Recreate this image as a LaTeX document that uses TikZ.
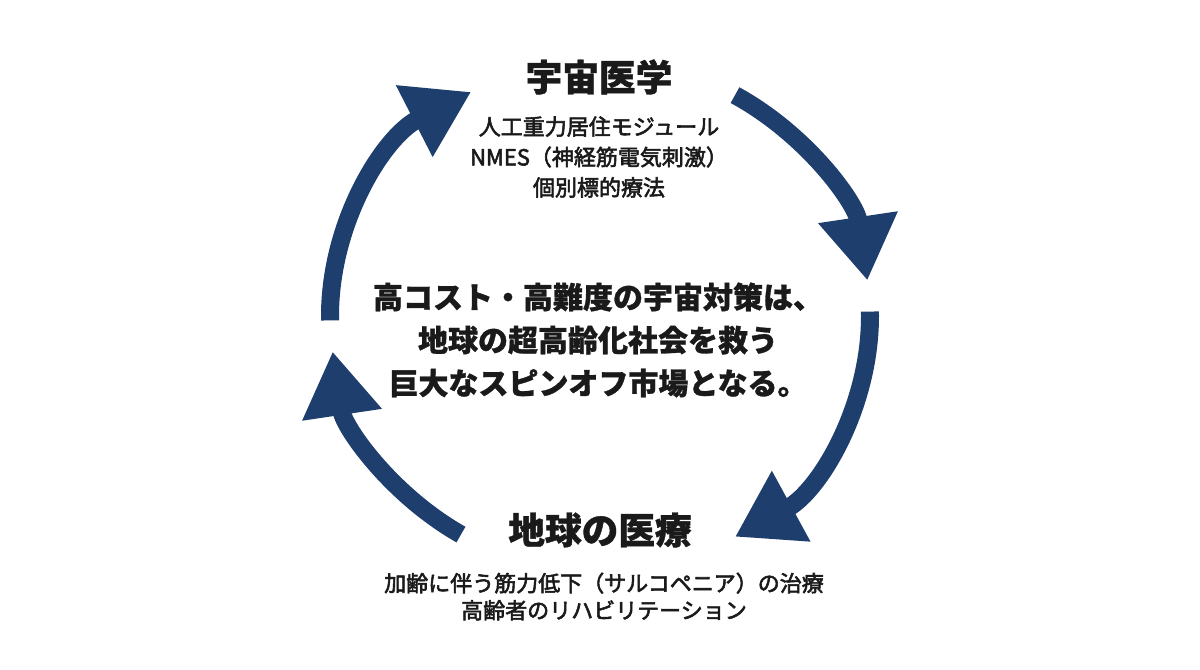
\documentclass[tikz,border=0pt]{standalone}
\usepackage{fontspec}
\setmainfont{Noto Sans CJK JP}
\newfontfamily\jpmed{Noto Sans CJK JP}[FakeBold=2.5]
\newfontfamily\jpheavy{Noto Sans CJK JP}[BoldFeatures={FakeBold=1}]
\usetikzlibrary{arrows.meta,calc}
\definecolor{navy}{RGB}{30,62,110}
\definecolor{ink}{RGB}{26,26,26}
\tikzset{
  cyclearrow/.style={draw=navy, line width=13.5pt, -{Triangle[length=48pt,width=57pt]}},
  headtext/.style={text=ink, inner sep=0pt, font=\fontsize{27.5pt}{30pt}\selectfont\jpheavy\bfseries},
  subtext/.style={text=ink, inner sep=0pt, align=center},
  maintext/.style={text=ink, inner sep=0pt, align=center, font=\fontsize{22.5pt}{32.25pt}\selectfont\jpheavy\bfseries}
}
\begin{document}
\begin{tikzpicture}[x=0.75pt,y=0.75pt]
\useasboundingbox (0,0) rectangle (1200,670);
\fill[white] (0,0) rectangle (1200,670);
\coordinate (c) at (600,354);
% arcs
\draw[cyclearrow] ($(c)+(181:270 and 255)$) arc[start angle=181, end angle=118.5, x radius=270, y radius=255];
\draw[cyclearrow] ($(c)+(60:270 and 255)$) arc[start angle=60, end angle=8, x radius=270, y radius=255];
\draw[cyclearrow] ($(c)+(1:270 and 255)$) arc[start angle=1, end angle=-60, x radius=270, y radius=255];
\draw[cyclearrow] ($(c)+(-121:270 and 255)$) arc[start angle=-121, end angle=-172, x radius=270, y radius=255];
% texts
\node[headtext] (space) at (599,593) {宇宙医学};
\node[subtext, font=\fontsize{16.5pt}{22.8pt}\selectfont\jpmed] (spacesub) at (599,513) {人工重力居住モジュール\\NMES（神経筋電気刺激）\\個別標的療法};
\node[maintext] (main) at (598,330) {高コスト・高難度の宇宙対策は、\\地球の超高齢化社会を救う\\巨大なスピンオフ市場となる。};
\node[headtext] (earth) at (600,140) {地球の医療};
\node[subtext, font=\fontsize{16.5pt}{20.3pt}\selectfont\jpmed] (earthsub) at (604,73.5) {加齢に伴う筋力低下（サルコペニア）の治療\\高齢者のリハビリテーション};
\end{tikzpicture}
\end{document}
